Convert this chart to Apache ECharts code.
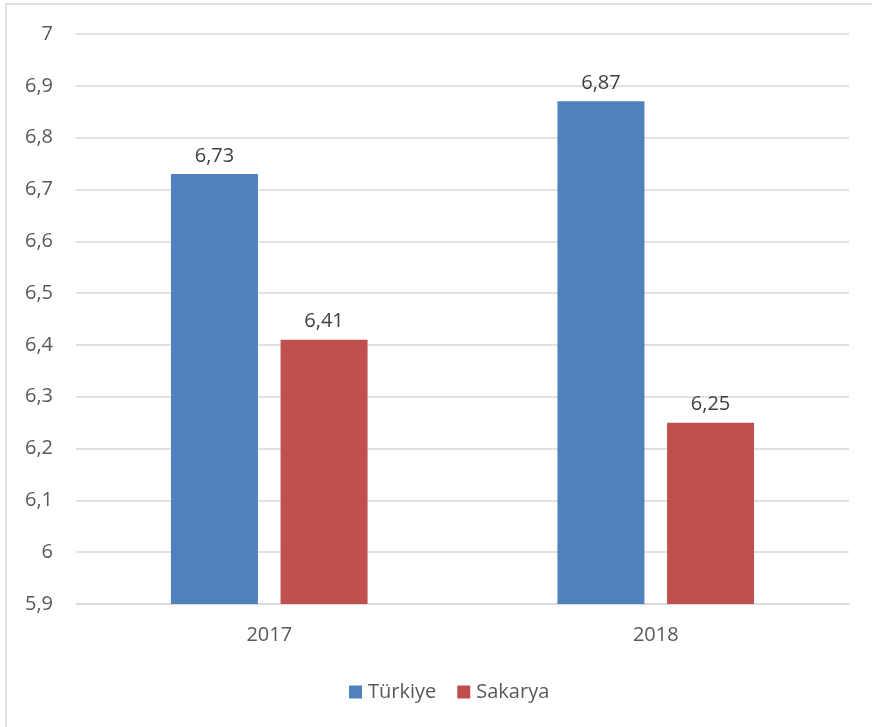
<!DOCTYPE html>
<html lang="tr">
    <head>
        <meta charset="UTF-8" />
        <title>Türkiye - Sakarya</title>
        <script src="https://cdn.jsdelivr.net/npm/echarts@6/dist/echarts.min.js"></script>
        <style>
            html, body { margin: 0; padding: 0; background: #fff; }
            #chart { width: 872px; height: 727px; }
        </style>
    </head>
    <body>
        <div id="chart"></div>
        <script>
            const years = ["2017", "2018"];
            const turkiye = [6.73, 6.87];
            const sakarya = [6.41, 6.25];
            const seriesNames = ["Türkiye", "Sakarya"];

            const textColor = "#595959";
            const font = "'Open Sans', 'Noto Sans', sans-serif";
            const fontSize = 20;
            const comma = (v) => String(Math.round(v * 100) / 100).replace(".", ",");

            const chart = echarts.init(document.getElementById("chart"));
            const barStyle = (name, data, color) => ({
                name,
                type: "bar",
                data,
                barWidth: 87,
                barGap: "26%",
                itemStyle: { color },
                label: {
                    show: true,
                    position: "top",
                    distance: 8,
                    color: "#404040",
                    fontFamily: font,
                    fontSize,
                    formatter: (p) => comma(p.value),
                },
            });

            chart.setOption({
                animation: false,
                graphic: [
                    {
                        type: "rect",
                        shape: { x: 6, y: 4, width: 900, height: 800 },
                        style: { fill: "none", stroke: "#d9d9d9", lineWidth: 1.5 },
                        silent: true,
                    },
                ],
                grid: { left: 76, right: 23, top: 34, bottom: 123 },
                legend: {
                    top: 677,
                    left: 344,
                    itemWidth: 13,
                    itemHeight: 13,
                    itemGap: 21,
                    icon: "rect",
                    textStyle: { color: textColor, fontFamily: font, fontSize, padding: [0, 0, 0, 1] },
                    data: seriesNames,
                },
                xAxis: {
                    type: "category",
                    data: years,
                    axisLine: { lineStyle: { color: "#d9d9d9", width: 1.5 } },
                    axisTick: { show: false },
                    axisLabel: { color: textColor, fontFamily: font, fontSize, margin: 21 },
                },
                yAxis: {
                    type: "value",
                    min: 5.9,
                    max: 7,
                    interval: 0.1,
                    axisLine: { show: false },
                    axisTick: { show: false },
                    splitLine: { lineStyle: { color: "#d9d9d9", width: 1.5 } },
                    axisLabel: {
                        color: textColor,
                        fontFamily: font,
                        fontSize,
                        margin: 23,
                        formatter: (v) => comma(v),
                    },
                },
                series: [
                    barStyle(seriesNames[0], turkiye, "#4f81bd"),
                    barStyle(seriesNames[1], sakarya, "#c0504d"),
                ],
            });
        </script>
    </body>
</html>
